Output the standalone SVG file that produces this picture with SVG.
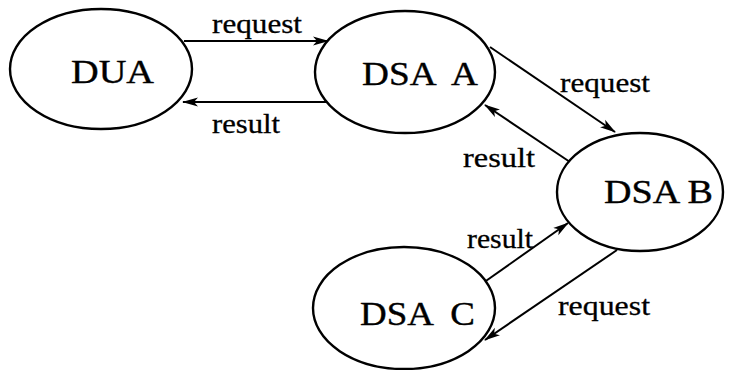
<svg xmlns="http://www.w3.org/2000/svg" width="729" height="370" viewBox="0 0 729 370">
  <style>
    .node { fill: #fff; stroke: #000; stroke-width: 2.4; }
    .name { font-family: "Liberation Serif", "Times New Roman", serif; font-size: 34px; fill: #000; stroke: #000; stroke-width: 0.4; white-space: pre; }
    .lbl { font-family: "Liberation Serif", "Times New Roman", serif; font-size: 27px; fill: #000; stroke: #000; stroke-width: 0.3; }
    .link { fill: none; stroke: #000; stroke-width: 2; marker-end: url(#head); }
  </style>
  <defs>
    <marker id="head" viewBox="0 0 16 10" refX="15" refY="5" markerWidth="16" markerHeight="10" markerUnits="userSpaceOnUse" orient="auto">
      <path d="M0,0.5 L16,5 L0,9.5 L4,5 Z" fill="#000"/>
    </marker>
  </defs>
  <rect width="729" height="370" fill="#fff"/>

  <g id="connectors">
    <line class="link" x1="184" y1="41" x2="328" y2="41"/>
    <line class="link" x1="332" y1="102" x2="183" y2="102"/>
    <line class="link" x1="490" y1="47" x2="615" y2="132"/>
    <line class="link" x1="570" y1="162" x2="485" y2="105"/>
    <line class="link" x1="483" y1="283" x2="568" y2="223"/>
    <line class="link" x1="617" y1="250" x2="485" y2="340"/>
    <text class="lbl" x="212" y="33" textLength="90" lengthAdjust="spacingAndGlyphs">request</text>
    <text class="lbl" x="212" y="133" textLength="68" lengthAdjust="spacingAndGlyphs">result</text>
    <text class="lbl" x="560" y="92" textLength="90" lengthAdjust="spacingAndGlyphs">request</text>
    <text class="lbl" x="463" y="167" textLength="72" lengthAdjust="spacingAndGlyphs">result</text>
    <text class="lbl" x="467" y="248" textLength="66" lengthAdjust="spacingAndGlyphs">result</text>
    <text class="lbl" x="558" y="315" textLength="92" lengthAdjust="spacingAndGlyphs">request</text>
  </g>

  <g id="dua">
    <ellipse class="node" cx="101" cy="69" rx="91" ry="60"/>
    <text class="name" x="71" y="83" textLength="83" lengthAdjust="spacingAndGlyphs">DUA</text>
  </g>
  <g id="dsa-a">
    <ellipse class="node" cx="405" cy="72" rx="90" ry="61"/>
    <text class="name" x="362" y="85" textLength="116" lengthAdjust="spacingAndGlyphs" xml:space="preserve">DSA  A</text>
  </g>
  <g id="dsa-b">
    <ellipse class="node" cx="640" cy="192" rx="83" ry="59"/>
    <text class="name" x="604" y="203" textLength="109" lengthAdjust="spacingAndGlyphs">DSA B</text>
  </g>
  <g id="dsa-c">
    <ellipse class="node" cx="404" cy="308" rx="91" ry="61"/>
    <text class="name" x="360" y="325" textLength="115" lengthAdjust="spacingAndGlyphs" xml:space="preserve">DSA  C</text>
  </g>
</svg>
